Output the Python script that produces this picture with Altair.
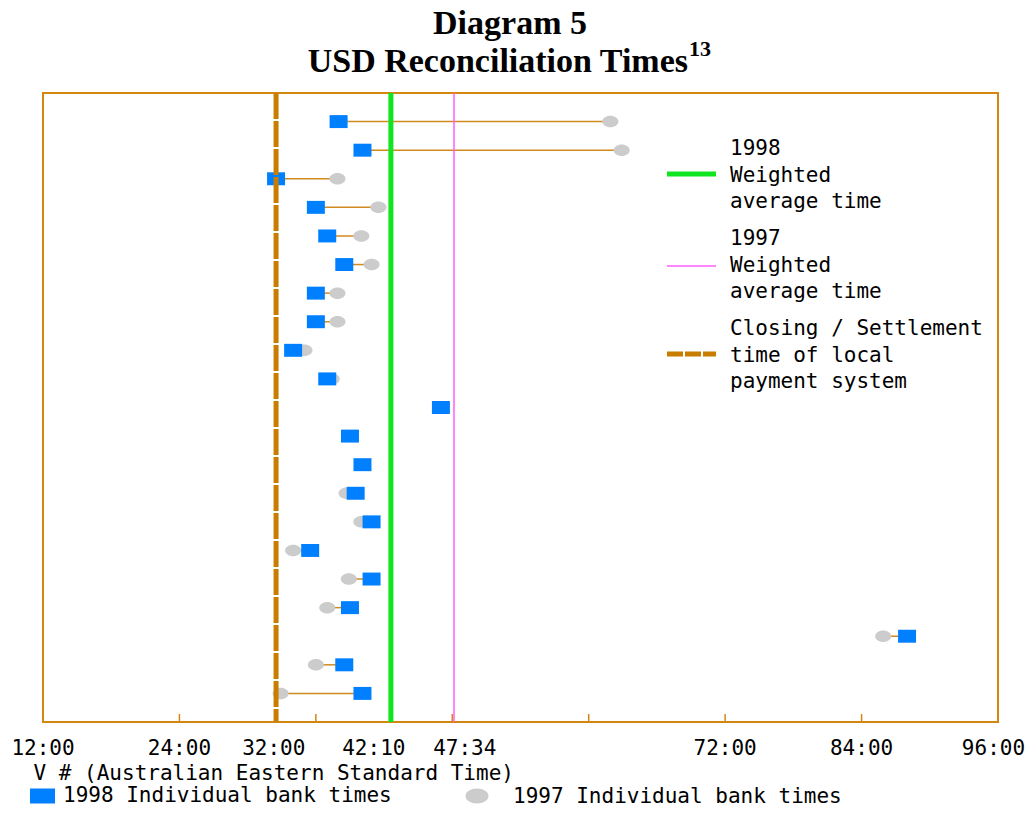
import altair as alt
import pandas as pd

# ---------------- data ----------------
rows = list(range(1, 22))
t1998 = [38.0, 40.1, 32.5, 36.0, 37.0, 38.5, 36.0, 36.0, 34.0, 37.0, 47.0,
         39.0, 40.1, 39.5, 40.9, 35.5, 40.9, 39.0, 88.0, 38.5, 40.1]
t1997 = [61.9, 62.9, 37.9, 41.5, 40.0, 40.9, 37.9, 37.9, 35.0, 37.4, None,
         None, None, 38.7, 40.0, 34.0, 38.9, 37.0, 85.9, 36.0, 32.9]

avg_1998 = 42.6
avg_1997 = 48.15
closing_time = 32.5

tick_values = [24, 36, 48, 60, 72, 84]
label_values = [12, 24, 32.3, 41.1, 49.1, 72, 84, 95.6]
label_texts = ["12:00", "24:00", "32:00", "42:10", "47:34", "72:00", "84:00", "96:00"]

title_line1 = "Diagram 5"
title_line2 = "USD Reconciliation Times"
title_note = "13"
x_title = "V # (Australian Eastern Standard Time)"
legend_avg98 = ["1998", "Weighted", "average time"]
legend_avg97 = ["1997", "Weighted", "average time"]
legend_closing = ["Closing / Settlement", "time of local", "payment system"]
legend_points = ["1998 Individual bank times", "1997 Individual bank times"]

# ---------------- style ----------------
W, H = 955, 629
FRAME = "#D4870F"
CONN = "#D08A1E"
CLOSE = "#C87D00"
GREEN = "#10E620"
PINK = "#FF5CFF"
BLUE = "#0080FF"
GREY = "#CCCCCC"
SANS = "DejaVu Sans Mono"
SERIF = "Liberation Serif"
FS = 21

RECT = "M-1,-0.72H1V0.72H-1Z"
ELLIPSE = "M-1,0A1,0.72,0,1,1,1,0A1,0.72,0,1,1,-1,0Z"
RECT_LEG = "M-1,-0.6H1V0.6H-1Z"
ELLIPSE_LEG = "M-1,0A1,0.65,0,1,1,1,0A1,0.65,0,1,1,-1,0Z"

xscale = alt.Scale(domain=[12, 96], nice=False, zero=False)
yscale = alt.Scale(domain=[0, 22], reverse=True, nice=False, zero=False)
xaxis = alt.Axis(title=x_title, labels=False, ticks=False, domain=False, grid=False,
                 titleFont=SANS, titleFontSize=FS, titleFontWeight="normal",
                 titleColor="#000000", titleAnchor="start", titleAlign="left",
                 titleBaseline="alphabetic", titleX=-10, titleY=57)


def X(field):
    return alt.X(field, type="quantitative", scale=xscale, axis=xaxis)


df = pd.DataFrame({"row": rows, "t1998": t1998, "t1997": t1997})
base = alt.Chart(df)
Yenc = alt.Y("row:Q", scale=yscale, axis=None)

connectors = base.mark_rule(color=CONN, strokeWidth=1.5).encode(
    x=X("t1998"), x2="t1997:Q", y=Yenc)
circles = base.mark_point(shape=ELLIPSE, filled=True, size=256, color=GREY,
                          opacity=1, strokeWidth=0).encode(x=X("t1997"), y=Yenc)
squares = base.mark_point(shape=RECT, filled=True, size=324, color=BLUE,
                          opacity=1, strokeWidth=0).encode(x=X("t1998"), y=Yenc)

pink_line = alt.Chart(pd.DataFrame({"v": [avg_1997]})).mark_rule(
    color=PINK, strokeWidth=1.5).encode(x=X("v"))
green_line = alt.Chart(pd.DataFrame({"v": [avg_1998]})).mark_rule(
    color=GREEN, strokeWidth=5).encode(x=X("v"))
close_line = alt.Chart(pd.DataFrame({"v": [closing_time]})).mark_rule(
    color=CLOSE, strokeWidth=5, strokeDash=[26, 2], strokeCap="butt").encode(x=X("v"))

ticks = alt.Chart(pd.DataFrame({"v": tick_values})).mark_rule(
    color=FRAME, strokeWidth=1.5).encode(x=X("v"), y=alt.value(H - 8), y2=alt.value(H))

tick_labels = alt.Chart(pd.DataFrame({"v": label_values, "t": label_texts})).mark_text(
    font=SANS, fontSize=FS, align="center", baseline="alphabetic", color="#000000"
).encode(x=X("v"), y=alt.value(662), text="t:N")

title1 = alt.Chart(pd.DataFrame({"t": [title_line1]})).mark_text(
    font=SERIF, fontSize=34, fontWeight="bold", align="center", baseline="alphabetic",
    color="#000000").encode(x=alt.value(467), y=alt.value(-59), text="t:N")
title2 = alt.Chart(pd.DataFrame({"t": [title_line2]})).mark_text(
    font=SERIF, fontSize=34, fontWeight="bold", align="right", baseline="alphabetic",
    color="#000000").encode(x=alt.value(645), y=alt.value(-21), text="t:N")
title3 = alt.Chart(pd.DataFrame({"t": [title_note]})).mark_text(
    font=SERIF, fontSize=22, fontWeight="bold", align="left", baseline="alphabetic",
    color="#000000").encode(x=alt.value(646), y=alt.value(-37), text="t:N")


def legend_text(lines, y0):
    d = pd.DataFrame({"t": lines, "y": [y0 + 26.6 * i for i in range(len(lines))]})
    return alt.Chart(d).mark_text(font=SANS, fontSize=FS, align="left",
                                  baseline="alphabetic", color="#000000").encode(
        x=alt.value(687), y=alt.Y("y:Q", scale=None), text="t:N")


def swatch(color, width, y, dash=None):
    kw = dict(color=color, strokeWidth=width, strokeCap="butt")
    if dash:
        kw["strokeDash"] = dash
    return alt.Chart(pd.DataFrame({"a": [0]})).mark_rule(**kw).encode(
        x=alt.value(624), x2=alt.value(673), y=alt.value(y))


leg = [
    swatch(GREEN, 5, 81), legend_text(legend_avg98, 62),
    swatch(PINK, 1.5, 173), legend_text(legend_avg97, 152),
    swatch(CLOSE, 5, 261, [16, 2]), legend_text(legend_closing, 242),
]

pt_leg1 = alt.Chart(pd.DataFrame({"a": [0]})).mark_point(
    shape=RECT_LEG, filled=True, size=625, color=BLUE, opacity=1, strokeWidth=0).encode(
    x=alt.value(-0.5), y=alt.value(703))
pt_leg2 = alt.Chart(pd.DataFrame({"a": [0]})).mark_point(
    shape=ELLIPSE_LEG, filled=True, size=529, color=GREY, opacity=1, strokeWidth=0).encode(
    x=alt.value(434), y=alt.value(703))
pt_txt1 = alt.Chart(pd.DataFrame({"t": [legend_points[0]]})).mark_text(
    font=SANS, fontSize=FS, align="left", baseline="alphabetic", color="#000000").encode(
    x=alt.value(20), y=alt.value(709), text="t:N")
pt_txt2 = alt.Chart(pd.DataFrame({"t": [legend_points[1]]})).mark_text(
    font=SANS, fontSize=FS, align="left", baseline="alphabetic", color="#000000").encode(
    x=alt.value(470), y=alt.value(710), text="t:N")

chart = alt.layer(
    connectors, circles, squares, ticks, pink_line, green_line, close_line,
    tick_labels, title1, title2, title3, *leg, pt_leg1, pt_leg2, pt_txt1, pt_txt2
).properties(
    width=W, height=H,
    autosize=alt.AutoSizeParams(type="none"),
    padding={"left": 35, "top": 85, "right": 27, "bottom": 86},
    background="white",
).configure_view(stroke=FRAME, strokeWidth=2)

chart.save("out.html", embed_options={"renderer": "svg", "actions": False})
